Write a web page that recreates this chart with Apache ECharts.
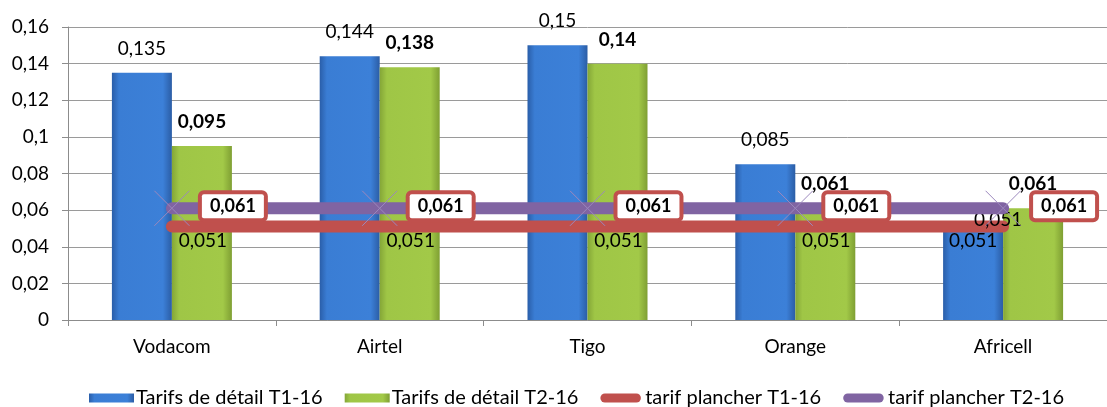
<!DOCTYPE html>
<html>
<head>
<meta charset="utf-8">
<script src="https://cdn.jsdelivr.net/npm/echarts@6/dist/echarts.min.js"></script>
<style>
html,body{margin:0;padding:0;background:#fff;}
#chart{width:1107px;height:407px;}
</style>
</head>
<body>
<div id="chart"></div>
<script>
const categories = ['Vodacom', 'Airtel', 'Tigo', 'Orange', 'Africell'];
const retailT1 = [0.135, 0.144, 0.15, 0.085, 0.051];
const retailT2 = [0.095, 0.138, 0.14, 0.061, 0.061];
const floorT1 = [0.051, 0.051, 0.051, 0.051, 0.051];
const floorT2 = [0.061, 0.061, 0.061, 0.061, 0.061];
const seriesNames = ['Tarifs de détail T1-16', 'Tarifs de détail T2-16', 'tarif plancher T1-16', 'tarif plancher T2-16'];
const yMin = 0, yMax = 0.16, yStep = 0.02;

const FONT = 'Lato';
const FS = 19;
const fmt = v => String(v).replace('.', ',');

const blueGrad = new echarts.graphic.LinearGradient(0, 0, 1, 0, [
  {offset: 0, color: '#2a5ea9'}, {offset: 0.12, color: '#3a7dd4'},
  {offset: 0.85, color: '#3c80d8'}, {offset: 1, color: '#2b5da5'}]);
const greenGrad = new echarts.graphic.LinearGradient(0, 0, 1, 0, [
  {offset: 0, color: '#84a637'}, {offset: 0.12, color: '#9fc646'},
  {offset: 0.85, color: '#a2c948'}, {offset: 1, color: '#7f9f33'}]);

const pill = 'path://M5,0 L40,0 A5,5 0 0 1 40,10 L5,10 A5,5 0 0 1 5,0 Z';
const cross = 'path://M0,0 L10,10 M10,0 L0,10';

const chart = echarts.init(document.getElementById('chart'), null, {renderer: 'canvas'});
chart.setOption({
  animation: false,
  textStyle: {fontFamily: FONT},
  grid: {left: 68, top: 27, width: 1050, height: 293, containLabel: false},
  legend: {
    left: 84, top: 382, itemWidth: 45, itemHeight: 9, itemGap: 22,
    textStyle: {fontFamily: FONT, fontSize: 20, lineHeight: 22, color: '#000', padding: [0, 0, 0, -3]},
    data: [
      {name: seriesNames[0], icon: 'rect'},
      {name: seriesNames[1], icon: 'rect'},
      {name: seriesNames[2], icon: pill, itemStyle: {color: '#c0504d', opacity: 1}},
      {name: seriesNames[3], icon: pill, itemStyle: {color: '#8064a2', borderWidth: 0}}
    ]
  },
  xAxis: {
    type: 'category', data: categories,
    axisLine: {lineStyle: {color: '#8c8c8c', width: 1}},
    axisTick: {show: true, length: 6, lineStyle: {color: '#8c8c8c'}},
    axisLabel: {fontFamily: FONT, fontSize: FS, color: '#000', margin: 17},
    splitLine: {show: false}
  },
  yAxis: {
    type: 'value', min: yMin, max: yMax, interval: yStep,
    axisLine: {show: true, lineStyle: {color: '#8c8c8c'}},
    axisTick: {show: true, length: 6, lineStyle: {color: '#8c8c8c'}},
    axisLabel: {fontFamily: FONT, fontSize: FS, color: '#000', margin: 19,
      formatter: v => fmt(+v.toFixed(2))},
    splitLine: {lineStyle: {color: '#9a9a9a', width: 1}}
  },
  series: [
    {
      name: seriesNames[0], type: 'bar', barWidth: 60, barGap: '0%',
      itemStyle: {color: blueGrad},
      label: {show: true, position: 'top', distance: 14, fontFamily: FONT, fontSize: FS,
        color: '#000', lineHeight: 20, formatter: p => fmt(p.value)},
      data: retailT1.map((v, i) => i === 4
        ? {value: v, label: {position: 'insideTop', distance: 4}}
        : v)
    },
    {
      name: seriesNames[1], type: 'bar', barWidth: 60, barGap: '0%',
      itemStyle: {color: greenGrad},
      label: {show: true, position: 'top', distance: 14, fontFamily: FONT, fontSize: FS,
        fontWeight: 'bold', color: '#000', lineHeight: 20, formatter: p => fmt(p.value)},
      data: retailT2
    },
    {
      name: seriesNames[2], type: 'line', symbol: 'circle', symbolSize: 1,
      itemStyle: {color: '#c0504d', borderColor: 'rgba(0,0,0,0)'},
      lineStyle: {color: '#c0504d', width: 12, cap: 'round'},
      label: {show: true, position: 'bottom', distance: 3, offset: [31, 0],
        fontFamily: FONT, fontSize: FS, color: '#000', lineHeight: 20,
        formatter: p => fmt(p.value)},
      data: floorT1.map((v, i) => i === 4
        ? {value: v, label: {position: 'inside', offset: [-5, -7]}}
        : v),
      z: 3
    },
    {
      name: seriesNames[3], type: 'line', symbol: cross, symbolSize: 35,
      itemStyle: {color: '#8064a2', borderColor: '#9c88bd', borderWidth: 1},
      lineStyle: {color: '#8064a2', width: 12, cap: 'round'},
      label: {show: true, position: 'right', distance: 12, offset: [0, -2],
        fontFamily: FONT, fontSize: 18, fontWeight: 'bold', color: '#000',
        lineHeight: 20, backgroundColor: '#fff', borderColor: '#c0504d', borderWidth: 4,
        borderRadius: 2, padding: [2, 8, 2, 8], formatter: p => fmt(p.value)},
      data: floorT2,
      z: 4
    }
  ]
});
</script>
</body>
</html>
